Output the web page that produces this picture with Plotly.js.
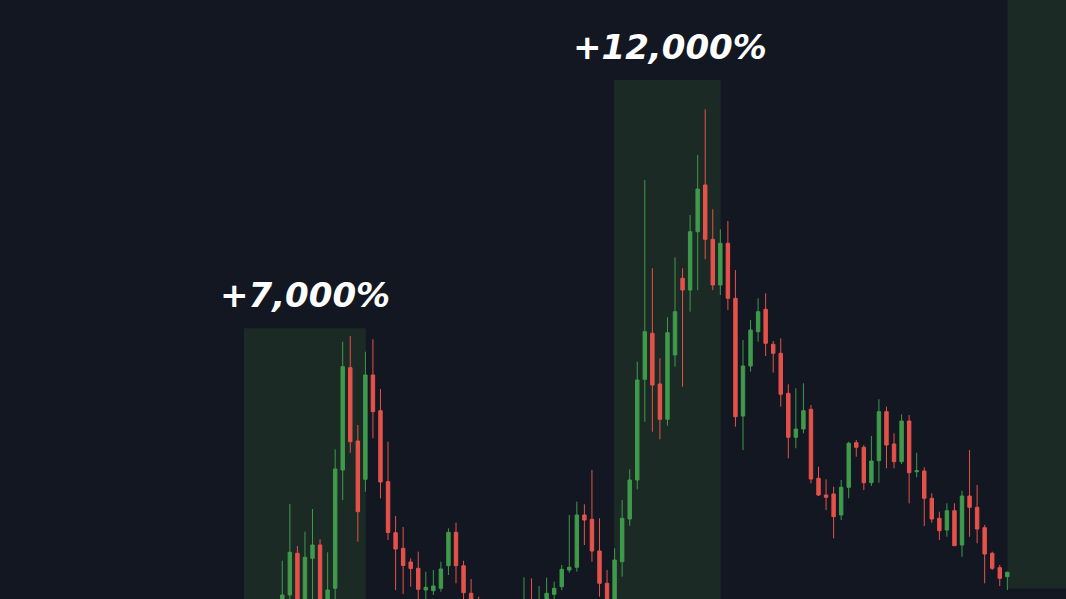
<!DOCTYPE html>
<html>
<head>
<meta charset="utf-8">
<script src="https://cdn.plot.ly/plotly-3.0.1.min.js"></script>
<style>
  html, body { margin: 0; padding: 0; background: #131722; overflow: hidden; }
  #chart { width: 1066px; height: 599px; }
</style>
</head>
<body>
<div id="chart"></div>
<script>
// Candle values (arbitrary price units)
const openVals = [94,105,146.7,95,141.7,155,92,111.7,230,332.3,259,220.7,325,289.3,218.3,167.3,151.7,138,131.7,110,109.3,111.7,134.3,167.7,134.3,106.7,92,85,78,85,75,88,90,97,88,94,105.7,113.3,130,132.7,185,180.7,149,116.7,97,138.3,181,220,320.7,366.7,316,280.7,345,421.7,410,468.3,515,460.7,415,456.7,401.7,284,334,368.3,390.7,355.7,346.7,306.7,262.7,271,290.7,221.7,205,206,185,212.7,257.3,252.7,217.3,239.3,288.3,256,238.3,279,228.3,229,201.7,181.7,170,189.3,155,204,192.7,172.3,146.7,132.3,123.3];
const highVals = [139.3,196,154,168.3,191,160.7,147.7,250.7,358.3,364,275,348.3,360.7,311,258.3,184,173,141.7,148.3,128.3,130,138.3,171.7,177.3,139.3,121,103.3,95,92,94,90,97,122.7,121.7,114,122.3,118.3,135,185,198.3,195.7,230,181.7,130,151.7,200,230.7,338.3,520,431.7,341.7,382.7,442.7,431.7,485,545,590.7,490.7,470.7,479,430,360,380,401.7,406.7,359,361.7,315.7,311.7,316.7,295,233.3,220.7,213.3,220,258.3,260,255,264,300.7,293.3,266.7,285.7,285,247.3,232.7,206.7,188.3,196.7,196.7,209.3,250,215,175,148.3,135,128.3];
const lowVals = [88,97,85,88,95,85,85,95,200,247.3,158.3,208.3,261.7,201.7,160,110,106,113.3,100,96,105,108.3,125,116.7,100,85,80,70,72,68,70,82,85,82,84,90,100,110,127.3,128.3,155,138.3,103.3,88,90,123.3,174.3,210.7,278.3,268.3,260.7,274.3,333.3,313.3,388.3,410,440.7,410,405,390,273.3,250,328.3,358.3,344,327.3,293.3,241.7,251.7,266.7,216.7,204,190,161.7,180,201.7,243.3,210,214,217.3,231.7,231.7,236,196.7,222.7,174,177.3,160,163.3,154,143.3,163.3,156.7,116.7,130,114,110];
const closeVals = [105,147.7,95,142.7,155,92,110,231,333.3,258.3,188.3,325,288.3,218,167.5,151,134.5,131.5,110.7,112.7,114,131,167.7,134.3,107.3,92,85,78,85,75,88,94,97,90,96,106.7,111.7,130.7,132.7,185,180,149,116.7,97,140,181.7,220,320,368.3,315,280.7,367.3,388.3,410,468.3,511,460.7,415,456.7,401.7,283.3,334,370,388.3,356.7,346.7,305.7,262.7,271,289.3,221,205,202.7,183.3,212.7,256.7,252.7,217.3,239,288.3,255,238.3,279,227.3,229.3,201.7,181,169.3,189.3,154.3,204,192.7,171,146,131.7,121.7,127.7];
const candleIndex = openVals.map((_, i) => i);

const labels = ["+7,000%", "+12,000%"];

const GREEN = "#3f9a4b";
const RED = "#e5524a";
const ZONE = "#1c2a26";

const trace = {
  type: "candlestick",
  x: candleIndex,
  open: openVals,
  high: highVals,
  low: lowVals,
  close: closeVals,
  increasing: { line: { color: GREEN, width: 1 }, fillcolor: GREEN },
  decreasing: { line: { color: RED, width: 1 }, fillcolor: RED },
  whiskerwidth: 0,
  hoverinfo: "skip"
};

const labelFont = { family: "DejaVu Sans", size: 34, color: "#ffffff", weight: "bold", style: "italic" };

const layout = {
  width: 1066,
  height: 599,
  margin: { l: 0, r: 0, t: 0, b: 0, pad: 0 },
  paper_bgcolor: "#131722",
  plot_bgcolor: "#131722",
  showlegend: false,
  boxgap: 0.35,
  xaxis: {
    range: [-37.38, 103.77],
    showgrid: false, zeroline: false, showticklabels: false, showline: false, ticks: "",
    rangeslider: { visible: false }, fixedrange: true
  },
  yaxis: {
    range: [101, 700],
    showgrid: false, zeroline: false, showticklabels: false, showline: false, ticks: "",
    fixedrange: true
  },
  shapes: [
    { type: "rect", xref: "paper", yref: "paper", x0: 0.2289, x1: 0.3431, y0: 0, y1: 0.4519, fillcolor: ZONE, line: { width: 0 }, layer: "below" },
    { type: "rect", xref: "paper", yref: "paper", x0: 0.5760, x1: 0.6761, y0: 0, y1: 0.8664, fillcolor: ZONE, line: { width: 0 }, layer: "below" },
    { type: "rect", xref: "paper", yref: "paper", x0: 0.9451, x1: 1, y0: 0.0175, y1: 1, fillcolor: ZONE, line: { width: 0 }, layer: "below" }
  ],
  annotations: [
    { text: labels[0], xref: "paper", yref: "paper", x: 0.2858, y: 0.5083, xanchor: "center", yanchor: "middle", showarrow: false, font: labelFont },
    { text: labels[1], xref: "paper", yref: "paper", x: 0.6285, y: 0.9220, xanchor: "center", yanchor: "middle", showarrow: false, font: labelFont }
  ]
};

Plotly.newPlot("chart", [trace], layout, { displayModeBar: false, staticPlot: true });
</script>
</body>
</html>
